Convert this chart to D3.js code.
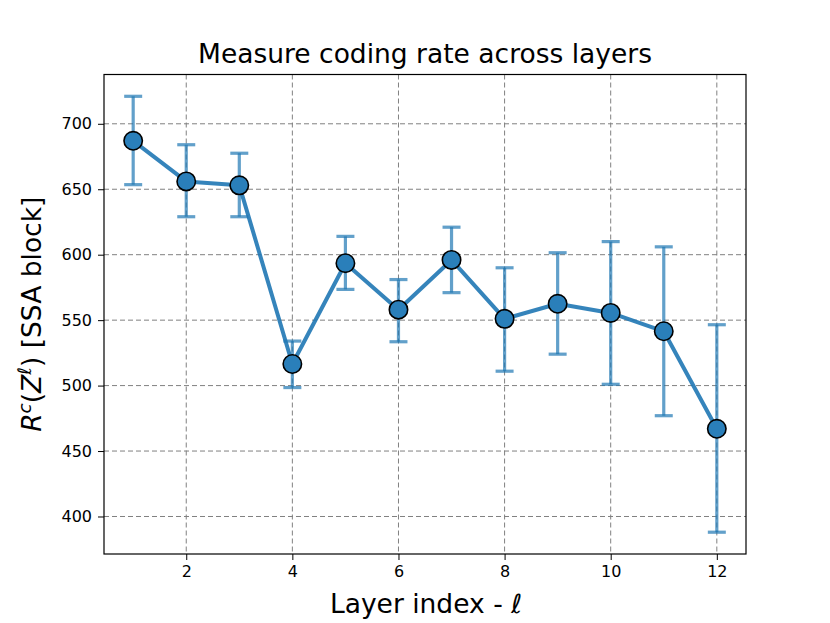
<!DOCTYPE html>
<html>
<head>
<meta charset="utf-8">
<script src="https://cdn.jsdelivr.net/npm/d3@7"></script>
<style>
  html, body { margin: 0; padding: 0; background: #fff; }
  svg text { font-family: "DejaVu Sans", sans-serif; }
</style>
</head>
<body>
<div id="chart"></div>
<script>
const layers = [1, 2, 3, 4, 5, 6, 7, 8, 9, 10, 11, 12];
const rate   = [687, 656, 653, 516.5, 593.5, 558, 596, 551, 562.5, 555.5, 541.5, 467];
const errHi  = [721, 684, 677.5, 534, 614, 581, 621, 590, 601.5, 610, 606, 546.5];
const errLo  = [653.5, 629, 629, 498.5, 573.5, 533.5, 571, 511, 524, 501, 477, 388];
const xTicks = [2, 4, 6, 8, 10, 12];
const yTicks = [400, 450, 500, 550, 600, 650, 700];

const W = 830, H = 623;
const margin = { top: 74.5, right: 84, bottom: 69, left: 104 };
const innerW = W - margin.left - margin.right;
const innerH = H - margin.top - margin.bottom;

const data = layers.map((l, i) => ({ l, v: rate[i], hi: errHi[i], lo: errLo[i] }));

// matplotlib-style 5% margins
const xPad = (d3.max(layers) - d3.min(layers)) * 0.05;
const xScale = d3.scaleLinear()
  .domain([d3.min(layers) - xPad, d3.max(layers) + xPad])
  .range([0, innerW]);
const yMin = d3.min(errLo), yMax = d3.max(errHi);
const yPad = (yMax - yMin) * 0.05;
const yScale = d3.scaleLinear()
  .domain([yMin - yPad, yMax + yPad])
  .range([innerH, 0]);

const svg = d3.select('#chart').append('svg').attr('width', W).attr('height', H);
const g = svg.append('g').attr('transform', `translate(${margin.left},${margin.top})`);

// Grid
g.append('g').selectAll('line').data(xTicks).join('line')
  .attr('x1', d => xScale(d)).attr('x2', d => xScale(d))
  .attr('y1', 0).attr('y2', innerH)
  .attr('stroke', '#808080').attr('stroke-width', 1).attr('stroke-dasharray', '5,3');
g.append('g').selectAll('line').data(yTicks).join('line')
  .attr('y1', d => yScale(d)).attr('y2', d => yScale(d))
  .attr('x1', 0).attr('x2', innerW)
  .attr('stroke', '#808080').attr('stroke-width', 1).attr('stroke-dasharray', '5,3');

// Axes
g.append('g')
  .attr('transform', `translate(0,${innerH})`)
  .call(d3.axisBottom(xScale).tickValues(xTicks).tickSize(6).tickPadding(6).tickFormat(d3.format('d')))
  .call(ax => ax.select('.domain').remove())
  .call(ax => ax.selectAll('text').attr('fill', '#000').style('font-size', '16px'));
g.append('g')
  .call(d3.axisLeft(yScale).tickValues(yTicks).tickSize(6).tickPadding(6).tickFormat(d3.format('d')))
  .call(ax => ax.select('.domain').remove())
  .call(ax => ax.selectAll('text').attr('fill', '#000').style('font-size', '16px'));

g.append('rect').attr('width', innerW).attr('height', innerH)
  .attr('fill', 'none').attr('stroke', '#000').attr('stroke-width', 1.2);

// Error bars
const eb = g.append('g').attr('stroke', '#1f77b4').attr('stroke-opacity', 0.7).attr('stroke-width', 3.2);
eb.selectAll('.stem').data(data).join('line').attr('class', 'stem')
  .attr('x1', d => xScale(d.l)).attr('x2', d => xScale(d.l))
  .attr('y1', d => yScale(d.lo)).attr('y2', d => yScale(d.hi));
eb.selectAll('.capHi').data(data).join('line').attr('class', 'capHi')
  .attr('x1', d => xScale(d.l) - 9).attr('x2', d => xScale(d.l) + 9)
  .attr('y1', d => yScale(d.hi)).attr('y2', d => yScale(d.hi));
eb.selectAll('.capLo').data(data).join('line').attr('class', 'capLo')
  .attr('x1', d => xScale(d.l) - 9).attr('x2', d => xScale(d.l) + 9)
  .attr('y1', d => yScale(d.lo)).attr('y2', d => yScale(d.lo));

// Line
g.append('path').datum(data)
  .attr('fill', 'none').attr('stroke', '#1f77b4').attr('stroke-opacity', 0.9)
  .attr('stroke-width', 4).attr('stroke-linejoin', 'round')
  .attr('d', d3.line().x(d => xScale(d.l)).y(d => yScale(d.v)));

// Markers
g.selectAll('.pt').data(data).join('circle').attr('class', 'pt')
  .attr('cx', d => xScale(d.l)).attr('cy', d => yScale(d.v)).attr('r', 9.2)
  .attr('fill', '#2a7fba').attr('stroke', '#000').attr('stroke-width', 1.6);

// Title
svg.append('text').attr('x', margin.left + innerW / 2).attr('y', 63)
  .attr('text-anchor', 'middle').style('font-size', '26.5px').attr('fill', '#000')
  .text('Measure coding rate across layers');

// X label
const xl = svg.append('text').attr('x', margin.left + innerW / 2 + 1).attr('y', 612.5)
  .attr('text-anchor', 'middle').style('font-size', '26.5px').attr('fill', '#000');
xl.append('tspan').text('Layer index - ');
xl.append('tspan').style('font-style', 'italic').text('ℓ');

// Y label
const yl = svg.append('text')
  .attr('transform', `translate(41,${margin.top + innerH / 2}) rotate(-90)`)
  .attr('text-anchor', 'middle').style('font-size', '26.5px').attr('fill', '#000');
yl.append('tspan').style('font-style', 'italic').text('R');
yl.append('tspan').style('font-style', 'italic').style('font-size', '18.5px').attr('dy', -10).text('c');
yl.append('tspan').attr('dy', 10).text('(');
yl.append('tspan').style('font-style', 'italic').text('Z');
yl.append('tspan').style('font-style', 'italic').style('font-size', '18.5px').attr('dy', -10).text('ℓ');
yl.append('tspan').attr('dy', 10).text(') [SSA block]');
</script>
</body>
</html>
